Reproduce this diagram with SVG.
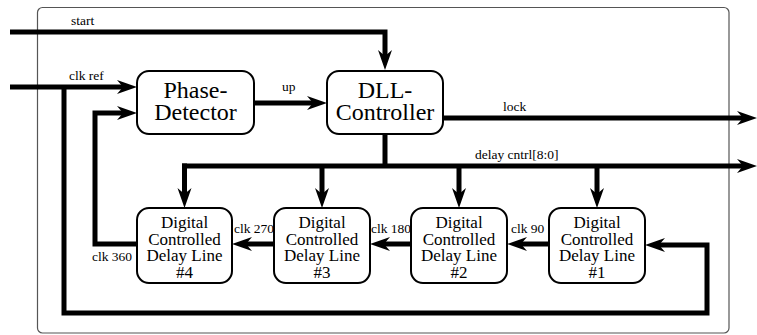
<svg xmlns="http://www.w3.org/2000/svg" width="757" height="335" viewBox="0 0 757 335">
<style>
.frame{fill:none;stroke:#555;stroke-width:1.2}
.box{fill:#fff;stroke:#000;stroke-width:2}
.wire{fill:none;stroke:#000;stroke-width:5;stroke-linejoin:miter}
</style>
<defs>
<marker id="arr" markerUnits="userSpaceOnUse" markerWidth="22" markerHeight="16" refX="6" refY="8" orient="auto" viewBox="0 0 22 16">
<path d="M0,1 L20,8 L0,15 L6,8 Z" fill="#000"/>
</marker>
</defs>
<rect class="frame" x="37.5" y="7.5" width="691.5" height="325.5" rx="5"/>
<g id="connectors">
<path class="wire" d="M10,32 H385 V56" marker-end="url(#arr)"/>
<path class="wire" d="M10,87 H123" marker-end="url(#arr)"/>
<path class="wire" d="M64,87 V313 H707 V245 H659" marker-end="url(#arr)"/>
<path class="wire" d="M137,244 H95 V113 H123" marker-end="url(#arr)"/>
<path class="wire" d="M254,103 H313" marker-end="url(#arr)"/>
<path class="wire" d="M443,118 H743" marker-end="url(#arr)"/>
<path class="wire" d="M385,134 V166"/>
<path class="wire" d="M182,166 H743" marker-end="url(#arr)"/>
<path class="wire" d="M184.5,163.5 V194" marker-end="url(#arr)"/>
<path class="wire" d="M322,166 V194" marker-end="url(#arr)"/>
<path class="wire" d="M459,166 V194" marker-end="url(#arr)"/>
<path class="wire" d="M597,166 V194" marker-end="url(#arr)"/>
<path class="wire" d="M549,244 H521" marker-end="url(#arr)"/>
<path class="wire" d="M411,244 H384" marker-end="url(#arr)"/>
<path class="wire" d="M274,244 H246" marker-end="url(#arr)"/>
<g font-family="Liberation Serif, Times New Roman, serif" font-size="13.5" fill="#000">
<text x="71" y="25">start</text>
<text x="69" y="80">clk ref</text>
<text x="282" y="91">up</text>
<text x="503" y="111">lock</text>
<text x="475" y="159">delay cntrl[8:0]</text>
<text x="234" y="233">clk 270</text>
<text x="371" y="233">clk 180</text>
<text x="511" y="233">clk 90</text>
<text x="92" y="261">clk 360</text>
</g>
</g>
<g id="phase-detector" font-family="Liberation Serif, Times New Roman, serif" font-size="24" text-anchor="middle">
<rect class="box" x="137" y="71" width="117" height="63" rx="12"/>
<text x="195.5" y="98">Phase-</text>
<text x="195.5" y="120">Detector</text>
</g>
<g id="dll-controller" font-family="Liberation Serif, Times New Roman, serif" font-size="24" text-anchor="middle">
<rect class="box" x="327" y="71" width="116" height="63" rx="12"/>
<text x="385" y="98">DLL-</text>
<text x="385" y="120">Controller</text>
</g>
<g id="dcdl4" font-family="Liberation Serif, Times New Roman, serif" font-size="17" text-anchor="middle">
<rect class="box" x="137" y="208" width="95" height="75" rx="12"/>
<text x="184.5" y="228">Digital</text>
<text x="184.5" y="244.5">Controlled</text>
<text x="184.5" y="261">Delay Line</text>
<text x="184.5" y="277.5">#4</text>
</g>
<g id="dcdl3" font-family="Liberation Serif, Times New Roman, serif" font-size="17" text-anchor="middle">
<rect class="box" x="274" y="208" width="96" height="75" rx="12"/>
<text x="322" y="228">Digital</text>
<text x="322" y="244.5">Controlled</text>
<text x="322" y="261">Delay Line</text>
<text x="322" y="277.5">#3</text>
</g>
<g id="dcdl2" font-family="Liberation Serif, Times New Roman, serif" font-size="17" text-anchor="middle">
<rect class="box" x="411" y="208" width="96" height="75" rx="12"/>
<text x="459" y="228">Digital</text>
<text x="459" y="244.5">Controlled</text>
<text x="459" y="261">Delay Line</text>
<text x="459" y="277.5">#2</text>
</g>
<g id="dcdl1" font-family="Liberation Serif, Times New Roman, serif" font-size="17" text-anchor="middle">
<rect class="box" x="549" y="208" width="96" height="75" rx="12"/>
<text x="597" y="228">Digital</text>
<text x="597" y="244.5">Controlled</text>
<text x="597" y="261">Delay Line</text>
<text x="597" y="277.5">#1</text>
</g>
</svg>
